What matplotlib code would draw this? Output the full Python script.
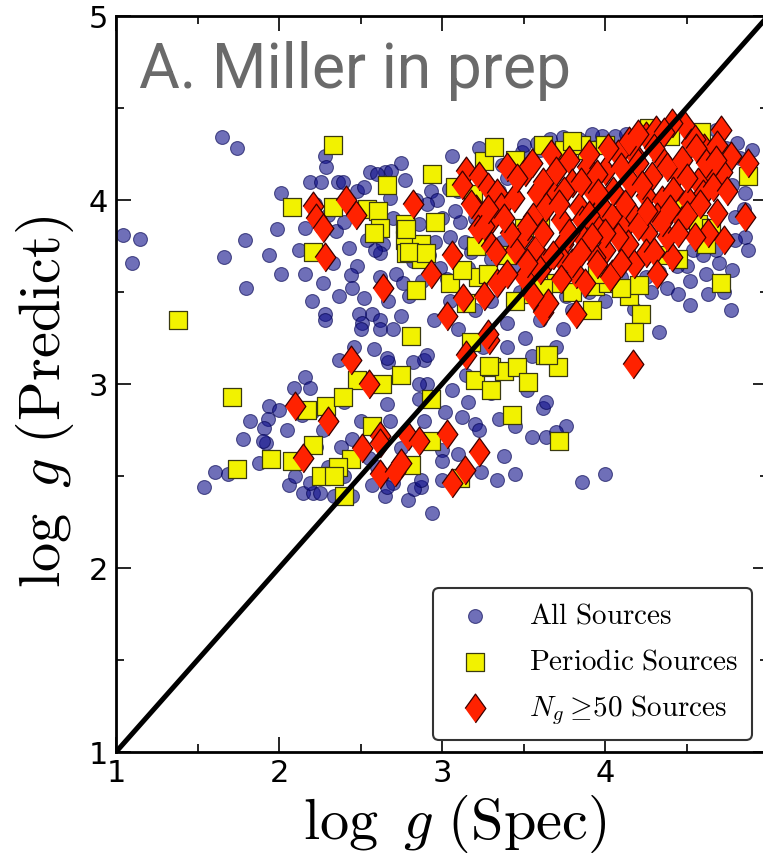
import numpy as np
import matplotlib
matplotlib.use("Agg")
import matplotlib.pyplot as plt

plt.rcParams["mathtext.fontset"] = "cm"

# (log g spec, log g predicted)
all_sources = [
    (1.65, 4.34), (1.74, 4.28), (1.04, 3.81), (1.15, 3.79), (1.10, 3.66), (1.66, 3.69),
    (1.79, 3.78), (1.80, 3.52), (1.94, 3.70), (1.99, 3.84), (2.01, 4.04), (2.01, 3.60),
    (2.16, 3.60), (2.19, 4.10), (2.26, 4.10), (2.28, 4.24), (2.29, 4.18), (2.16, 3.85),
    (2.12, 3.73), (2.27, 3.55), (2.28, 3.38),
    (3.06, 4.24), (3.23, 4.28), (2.75, 4.20), (2.56, 4.15), (2.65, 4.15), (2.36, 4.10),
    (2.48, 4.05), (2.77, 4.11), (2.93, 4.05), (2.97, 4.00), (3.04, 4.06), (2.91, 3.98),
    (2.68, 4.01), (2.35, 3.83), (2.54, 3.78), (2.64, 3.76), (2.62, 3.71), (2.48, 3.64),
    (2.43, 3.74), (2.72, 3.60), (2.76, 3.55), (2.37, 3.48), (2.52, 3.47), (2.75, 3.37),
    (2.96, 3.77), (3.05, 3.80), (2.99, 3.63), (3.03, 3.57), (3.11, 3.88), (3.14, 3.77),
    (3.37, 3.77), (3.45, 3.62), (3.16, 3.63), (2.82, 3.67), (2.88, 3.56), (3.49, 4.26),
    (3.60, 4.27), (3.37, 4.19), (3.40, 4.12), (2.59, 3.73), (2.44, 3.59), (2.80, 3.48),
    (2.57, 3.38), (3.08, 3.94),
    (2.39, 4.10), (2.52, 4.07), (2.60, 4.14), (2.69, 4.16), (2.22, 3.98), (2.30, 3.92),
    (2.40, 3.88), (2.33, 3.66), (2.45, 3.52), (2.20, 3.45), (2.62, 3.58), (2.86, 3.87),
    (2.92, 3.70), (3.00, 3.90), (3.10, 4.05), (3.20, 3.90), (3.25, 3.80), (3.30, 3.68),
    (3.35, 4.05), (3.18, 3.72), (2.70, 3.90), (2.84, 4.00), (2.58, 3.95),
    (3.98, 4.35), (4.06, 4.35), (4.13, 4.36), (4.81, 4.31), (4.83, 4.23), (4.86, 4.04),
    (4.78, 4.08), (4.80, 3.91), (4.86, 3.80), (4.80, 3.78), (4.88, 3.73), (4.52, 3.56),
    (4.63, 3.49), (4.73, 3.50), (4.52, 3.43), (4.77, 3.40), (4.18, 3.41), (4.54, 3.73),
    (4.50, 3.64),
    (3.50, 4.30), (3.58, 4.31), (3.66, 4.33), (3.74, 4.34), (3.84, 4.33), (3.92, 4.36),
    (4.22, 4.37), (4.33, 4.38), (4.58, 4.37), (4.68, 4.38), (4.90, 4.27), (4.74, 4.28),
    (4.44, 3.64), (4.33, 3.61), (4.25, 3.58), (4.38, 3.52), (4.62, 3.60), (4.70, 3.66),
    (4.60, 3.70), (4.68, 3.73), (4.10, 3.58), (3.90, 3.50), (3.76, 3.48), (3.58, 3.45),
    (3.48, 3.50), (4.00, 3.45), (4.28, 3.50), (4.45, 3.49), (4.78, 3.62), (4.85, 3.95),
    (2.16, 3.04), (2.09, 2.98), (2.19, 2.98), (1.94, 2.88), (2.00, 2.86), (1.93, 2.81),
    (1.82, 2.80), (1.91, 2.76), (1.78, 2.70), (1.92, 2.68), (1.61, 2.52), (1.69, 2.51),
    (1.54, 2.44), (1.88, 2.57), (2.06, 2.45), (2.10, 2.50), (2.15, 2.41), (2.21, 2.41),
    (2.25, 2.41), (2.27, 2.75), (2.23, 2.66), (2.19, 2.46), (2.14, 2.83), (2.28, 3.35),
    (1.90, 2.69),
    (2.34, 2.39), (2.45, 2.39), (2.57, 2.45), (2.65, 2.39), (2.70, 2.46), (2.79, 2.37),
    (2.87, 2.44), (2.37, 3.13), (2.46, 3.20), (2.67, 3.12), (2.89, 3.13), (2.91, 3.00),
    (2.89, 2.80), (2.83, 2.43), (2.49, 3.38), (2.51, 3.33), (2.62, 3.35), (2.67, 3.45),
    (2.50, 3.30), (2.62, 3.30), (2.70, 3.30), (2.58, 3.19), (2.66, 3.14), (2.82, 3.12),
    (2.91, 3.16), (2.86, 3.00), (2.66, 2.89), (2.86, 2.92), (3.02, 2.85), (3.12, 2.82),
    (3.20, 2.78), (3.00, 2.64), (3.00, 2.58), (3.10, 2.62), (3.23, 2.75), (3.38, 2.61),
    (3.24, 2.52), (3.34, 2.48), (3.45, 2.51), (2.87, 2.48), (3.00, 2.48), (2.66, 2.44),
    (2.94, 2.30), (3.52, 2.97), (3.35, 2.81), (3.45, 2.77), (3.55, 2.71), (3.62, 2.87),
    (3.51, 3.25), (3.40, 3.33), (3.55, 3.15), (3.16, 2.90), (3.06, 2.97), (2.50, 2.80),
    (2.68, 2.80), (2.38, 2.66),
    (4.33, 3.28), (3.74, 3.30), (3.70, 3.20), (3.64, 2.90), (3.76, 2.77), (3.70, 2.74),
    (3.64, 2.71), (3.86, 2.47), (4.00, 2.51),
    (3.20, 3.40), (3.30, 3.45), (3.10, 3.30), (3.25, 3.20), (2.95, 3.35), (3.05, 3.45),
    (3.40, 3.20), (3.60, 3.35), (3.80, 3.40), (3.15, 3.05), (3.30, 2.95), (2.40, 2.90),
    (2.55, 2.60), (2.45, 2.70), (2.75, 2.65), (2.30, 2.55), (2.40, 2.50), (2.60, 2.55),
    (2.20, 2.85), (2.05, 2.75),
]

periodic = [
    (2.08, 3.96), (1.38, 3.35), (2.21, 3.72), (2.33, 4.30), (2.66, 4.08), (2.94, 4.14),
    (2.33, 3.96), (2.54, 3.95), (2.61, 3.94), (2.62, 3.85), (2.58, 3.82), (2.77, 3.87),
    (2.77, 3.78), (2.78, 3.71), (2.87, 3.76), (2.87, 3.68), (2.96, 3.88), (2.84, 3.51),
    (3.22, 3.58), (3.26, 4.21), (3.08, 4.07), (3.19, 4.03), (3.21, 3.75), (3.15, 3.44),
    (3.54, 3.49), (3.62, 4.30),
    (4.88, 4.13), (4.57, 3.87), (4.65, 3.85), (4.62, 3.76), (4.71, 3.55), (4.15, 3.48),
    (4.21, 3.54), (3.92, 3.40), (4.22, 3.38), (3.94, 3.53), (3.89, 4.27), (4.27, 4.39),
    (4.59, 4.37), (4.43, 3.95),
    (1.71, 2.93), (1.74, 2.54), (1.95, 2.59), (2.17, 2.86), (2.21, 2.67), (2.26, 2.50),
    (2.29, 2.88), (2.08, 2.58),
    (2.81, 3.26), (2.75, 3.05), (2.63, 3.00), (2.48, 3.02), (2.39, 2.93), (2.57, 2.77),
    (2.93, 2.92), (2.93, 2.69), (2.81, 2.56), (2.44, 2.59), (2.36, 2.55), (2.34, 2.50),
    (2.40, 2.39), (3.20, 3.02), (3.30, 3.09), (3.30, 2.97), (3.38, 3.07), (3.46, 3.09),
    (3.43, 2.83), (3.63, 3.16), (3.18, 3.23), (3.11, 2.49),
    (4.18, 3.28), (3.71, 3.09), (3.65, 3.16), (3.72, 2.69), (3.53, 3.01), (3.29, 3.10),
    (2.78, 3.84), (2.80, 3.72), (2.90, 3.71),
    (3.32, 4.29), (3.45, 4.22), (3.75, 4.27), (3.85, 4.30), (4.40, 4.35), (3.70, 3.55),
    (3.80, 3.50), (3.62, 3.52), (4.02, 3.55), (4.10, 3.52), (3.95, 3.60), (4.35, 3.70),
    (4.45, 3.68), (3.40, 3.70), (3.50, 3.85), (3.35, 3.95), (3.60, 3.90), (4.70, 4.25),
    (4.00, 4.30), (3.28, 3.60), (3.45, 3.45), (3.05, 3.55), (3.12, 3.62), (3.80, 4.32),
]

ng50 = [
    (2.21, 3.97), (2.23, 3.90), (2.27, 3.85), (2.28, 3.69),
    (2.41, 4.00), (2.47, 3.92), (2.82, 3.98), (3.06, 3.70), (2.93, 3.60), (2.64, 3.52),
    (3.15, 4.16), (3.12, 4.08), (3.23, 4.13), (3.28, 4.07), (3.34, 4.04), (3.21, 3.95),
    (3.30, 3.89), (3.22, 3.84), (3.36, 3.96), (3.44, 4.01), (3.51, 4.15), (3.58, 4.04),
    (3.56, 3.91), (3.49, 3.80), (3.45, 3.73), (3.30, 3.75), (3.57, 3.73), (3.50, 3.58),
    (3.34, 3.55), (3.26, 3.48), (3.13, 3.47), (3.03, 3.37), (3.62, 3.39), (3.63, 3.66),
    (4.49, 4.40), (4.71, 4.38), (4.53, 4.31), (4.61, 4.28), (4.69, 4.30), (4.77, 4.24),
    (4.88, 4.20), (4.72, 4.15), (4.63, 4.16), (4.57, 4.10), (4.60, 4.03), (4.69, 3.93),
    (4.86, 3.91), (4.73, 3.78), (4.47, 3.89), (4.41, 3.69), (4.25, 4.35), (4.31, 4.38),
    (4.41, 4.42), (4.35, 4.22), (4.18, 4.25), (4.08, 4.25), (4.00, 4.16), (3.89, 4.18),
    (3.78, 4.22), (3.67, 4.25), (4.29, 4.13), (4.44, 4.14), (4.16, 4.09), (3.92, 4.05),
    (3.80, 4.09), (3.69, 4.02), (3.84, 3.96), (3.98, 3.96), (4.12, 3.96), (4.25, 4.02),
    (4.35, 4.00), (4.51, 4.00), (4.32, 3.91), (4.18, 3.91), (4.04, 3.91), (3.86, 3.89),
    (3.73, 3.89), (3.62, 3.82), (3.96, 3.84), (4.11, 3.84), (4.26, 3.82), (4.38, 3.80),
    (3.87, 3.78), (3.74, 3.76), (4.00, 3.73), (4.14, 3.76), (4.25, 3.71), (3.94, 3.69),
    (3.74, 3.67), (3.82, 3.60), (3.73, 3.57), (4.04, 3.60), (3.95, 3.65), (4.18, 3.65),
    (3.65, 3.44), (3.82, 3.38), (4.15, 4.32),
    (2.10, 2.88), (2.15, 2.60), (2.30, 2.80), (2.44, 3.13), (2.55, 3.00), (2.51, 2.65),
    (2.62, 2.72), (2.62, 2.68), (2.79, 2.72), (2.86, 2.69), (2.62, 2.51), (2.71, 2.52),
    (2.75, 2.57), (3.03, 2.73), (3.23, 2.63), (3.14, 2.53), (3.06, 2.46), (3.29, 3.24),
    (3.15, 3.16), (4.17, 3.11), (3.56, 3.48), (4.03, 3.58), (3.28, 3.27),
    (3.40, 4.18), (3.46, 4.12), (3.55, 4.20), (3.62, 4.10), (3.70, 4.16), (3.75, 4.05),
    (3.85, 4.10), (3.90, 4.25), (3.95, 4.14), (4.02, 4.28), (4.05, 4.05), (4.10, 4.18),
    (4.20, 4.20), (4.23, 4.08), (4.30, 4.28), (4.38, 4.18), (4.47, 4.22), (4.55, 4.33),
    (4.62, 4.20), (4.66, 4.07), (4.75, 4.05), (4.42, 4.05), (4.50, 3.92), (4.58, 3.98),
    (4.63, 3.82), (4.55, 3.80), (4.45, 3.82), (4.30, 3.72), (4.35, 3.88), (4.20, 3.86),
    (4.08, 3.80), (3.90, 3.92), (3.78, 3.82), (3.68, 3.70), (3.60, 3.62), (3.52, 3.66),
    (3.42, 3.82), (3.38, 3.90), (3.40, 3.60), (3.33, 3.72), (3.26, 3.86), (3.18, 3.98),
    (3.28, 3.95), (3.52, 3.86), (3.64, 3.96), (3.72, 3.98), (3.80, 3.66), (3.88, 3.55),
    (4.10, 3.66), (4.12, 3.98), (4.26, 3.94), (4.00, 3.82), (3.92, 3.80), (3.85, 3.72),
    (4.32, 3.60), (4.40, 3.95), (4.50, 4.12), (4.56, 4.28), (4.68, 4.22), (4.36, 4.37),
    (4.20, 4.36), (3.96, 4.04),
]

one_to_one = [1, 5]

blue = np.array(all_sources)
yellow = np.array(periodic)
red = np.array(ng50)

fig = plt.figure(figsize=(7.63, 8.60), dpi=100)
ax = fig.add_axes([116 / 763, 108 / 860, 652 / 763, 736 / 860])

diamond = [(-0.72, 0), (0, 1), (0.72, 0), (0, -1)]

ax.scatter(blue[:, 0], blue[:, 1], s=100, marker="o", facecolor="#10108a",
           edgecolor="#000050", linewidth=0.8, alpha=0.6, zorder=2,
           label=r"$\mathrm{All\ Sources}$")
ax.scatter(yellow[:, 0], yellow[:, 1], s=175, marker="s", facecolor="#f2f200",
           edgecolor="#3a3a10", linewidth=0.9, zorder=3,
           label=r"$\mathrm{Periodic\ Sources}$")
ax.scatter(red[:, 0], red[:, 1], s=430, marker=diamond, facecolor="#ff2200",
           edgecolor="#3a0000", linewidth=0.9, zorder=4,
           label=r"$N_g\geq\!50\ \mathrm{Sources}$")

ax.plot(one_to_one, one_to_one, color="black", lw=3.6, zorder=5)

ax.set_xlim(1, 5)
ax.set_ylim(1, 5)
ax.set_xticks([1, 2, 3, 4])
ax.set_yticks([1, 2, 3, 4, 5])
ax.set_xticks(np.arange(1.5, 5, 1.0), minor=True)
ax.set_yticks(np.arange(1.5, 5, 1.0), minor=True)
ax.tick_params(which="both", direction="in", top=True, right=True, width=1.2,
               labelsize=22)
ax.tick_params(axis="x", pad=5)
ax.tick_params(axis="y", pad=6)
ax.tick_params(which="major", length=11)
ax.tick_params(which="minor", length=6)
for sp in ax.spines.values():
    sp.set_linewidth(2)

ax.set_xlabel(r"$\log\ g\ (\mathrm{Spec})$", fontsize=42)
ax.set_ylabel(r"$\log\ g\ (\mathrm{Predict})$", fontsize=42)
ax.xaxis.set_label_coords(0.52, -0.055, transform=ax.transAxes)
ax.xaxis.label.set_va("top")
ax.yaxis.label.set_va("center")
ax.yaxis.set_label_coords(-0.109, 0.475, transform=ax.transAxes)

ax.text(0.036, 0.902, "A. Miller in prep", transform=ax.transAxes,
        fontsize=45, color="#6a6a6a", family="Roboto", fontweight="normal",
        va="baseline", zorder=6)

leg = ax.legend(loc="lower right", bbox_to_anchor=(0.975, 0.016), borderaxespad=0,
                scatterpoints=1, fontsize=21, fancybox=True, framealpha=1,
                borderpad=0.45, labelspacing=0.62, handletextpad=0.85)
leg.get_frame().set_edgecolor("#333333")
leg.get_frame().set_linewidth(1.5)
leg.set_zorder(7)

fig.savefig("out.png", dpi=100, facecolor="white")
